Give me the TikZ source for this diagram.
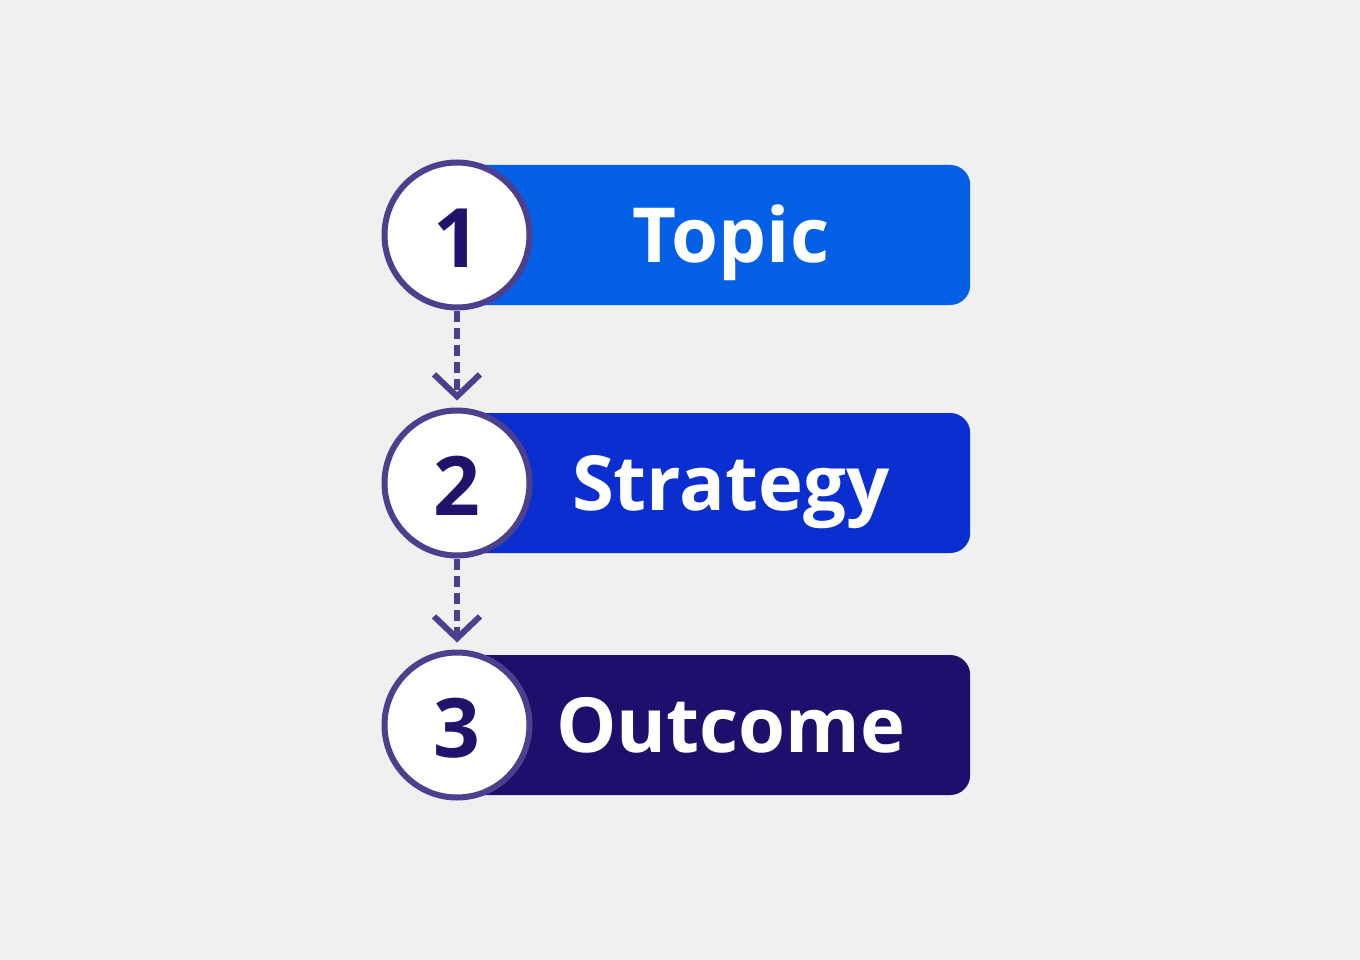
\documentclass[tikz,border=0pt]{standalone}
\usepackage{fontspec}
\setmainfont{Open Sans}
\usetikzlibrary{arrows.meta}
\definecolor{bgc}{HTML}{F0F0F0}
\definecolor{boxa}{HTML}{0360E6}
\definecolor{boxb}{HTML}{0A2ECF}
\definecolor{boxc}{HTML}{1F0E6B}
\definecolor{ring}{HTML}{4B3F8E}
\definecolor{numc}{HTML}{22126B}
\tikzset{
  stepbar/.style={rectangle, rounded corners=20pt, minimum width=513pt, minimum height=140pt, anchor=west, inner sep=0pt},
  numcircle/.style={circle, draw=ring, line width=6pt, fill=white, minimum size=145pt, inner sep=0pt},
  numtext/.style={text=numc, font=\bfseries\fontsize{82}{84}\selectfont, anchor=base, inner sep=0pt},
  bartext/.style={text=white, font=\bfseries\fontsize{76}{80}\selectfont, anchor=base, inner sep=0pt},
  flow/.style={draw=ring, line width=6.5pt, dash pattern=on 11pt off 6pt, -{Straight Barb[length=22pt, width=46pt, line width=6pt]}, shorten >=7pt}
}
\begin{document}
\begin{tikzpicture}[x=1pt, y=-1pt]
\fill[bgc] (0,0) rectangle (1360,960);
\useasboundingbox (0,0) rectangle (1360,960);
\node[stepbar, fill=boxa] (b1) at (457,235) {};
\node[stepbar, fill=boxb] (b2) at (457,483) {};
\node[stepbar, fill=boxc] (b3) at (457,725) {};
\node[numcircle] (c1) at (457,235) {};
\node[numcircle] (c2) at (457,483) {};
\node[numcircle] (c3) at (457,725) {};
\node[numtext] (n1) at (457,267) {1};
\node[numtext] (n2) at (457,515) {2};
\node[numtext] (n3) at (457,757) {3};
\node[bartext] (t1) at (731,262) {Topic};
\node[bartext] (t2) at (731,510) {Strategy};
\node[bartext] (t3) at (731,752) {Outcome};
\draw[flow] (c1.south) -- (c2.north);
\draw[flow] (c2.south) -- (c3.north);
\end{tikzpicture}
\end{document}
